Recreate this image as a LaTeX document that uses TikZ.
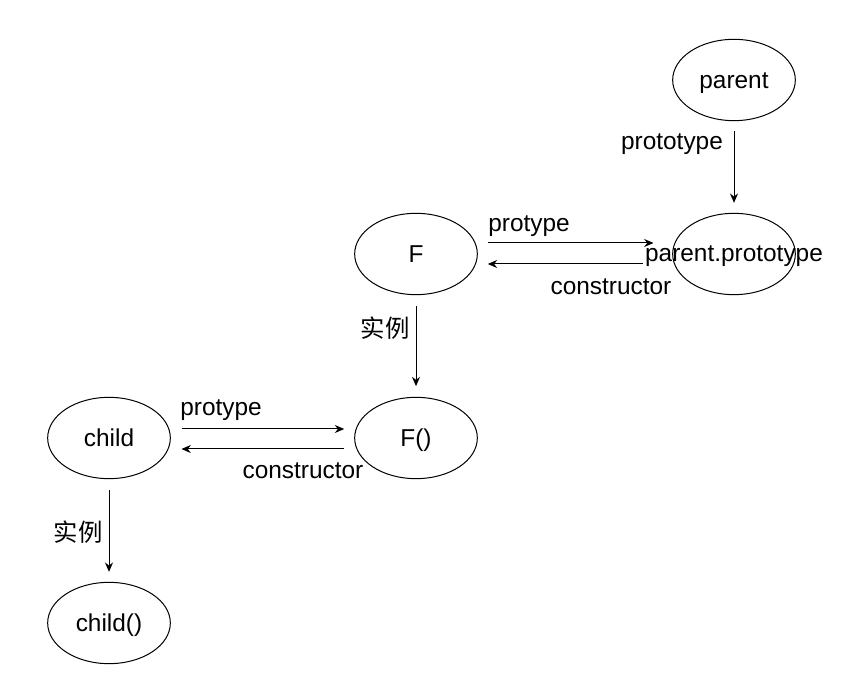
\documentclass[tikz,border=0pt]{standalone}
\usepackage{fontspec}
\setmainfont{Liberation Sans}
\newfontfamily\cjk{Noto Sans CJK SC}
\usetikzlibrary{shapes.geometric,arrows.meta}

\begin{document}
\begin{tikzpicture}[x=0.75pt,y=-0.75pt,
  every node/.style={font=\fontsize{18.3}{22}\selectfont},
  obj/.style={draw,ellipse,line width=0.75pt,minimum width=92pt,minimum height=61pt,inner sep=0pt,text height=13pt,text depth=0pt},
  lbl/.style={inner sep=0pt,yshift=-1.5pt},
  arr/.style={line width=0.75pt,-{Stealth[length=7pt,width=6pt]}}]
  \useasboundingbox (0,0) rectangle (850,673);
  % objects
  \node[obj] at(734,80)(parent){parent};
  \node[obj,label={[lbl]center:parent.prototype}] at(734,254)(pp){};
  \node[obj] at(416,254)(F){F};
  \node[obj] at(416,438)(Fi){F()};
  \node[obj] at(109,438)(child){child};
  \node[obj] at(109,623)(childi){child()};
  % labels
  \node[lbl] at(672,142)(lproto){prototype};
  \node[lbl] at(529,224)(lpro1){protype};
  \node[lbl] at(611,285)(lcon1){constructor};
  \node[lbl] at(385,326)(lins1){\cjk 实例};
  \node[lbl] at(221,408)(lpro2){protype};
  \node[lbl] at(303,469)(lcon2){constructor};
  \node[lbl] at(78,530)(lins2){\cjk 实例};
  % links
  \draw [arr]([yshift=-7.5pt]parent.south) -- ([yshift=7.5pt]pp.north);
  \draw [arr]([xshift=7.5pt,yshift=8.25pt]F.east) -- ([xshift=-14pt,yshift=8.25pt]pp.west);
  \draw [arr]([xshift=-22pt,yshift=-7.5pt]pp.west) -- ([xshift=7.5pt,yshift=-7.5pt]F.east);
  \draw [arr]([yshift=-8pt]F.south) -- ([yshift=8pt]Fi.north);
  \draw [arr]([xshift=8pt,yshift=6.75pt]child.east) -- ([xshift=-7.5pt,yshift=6.75pt]Fi.west);
  \draw [arr]([xshift=-7.5pt,yshift=-8.25pt]Fi.west) -- ([xshift=8pt,yshift=-8.25pt]child.east);
  \draw [arr]([yshift=-8pt]child.south) -- ([yshift=7.5pt]childi.north);
\end{tikzpicture}
\end{document}
